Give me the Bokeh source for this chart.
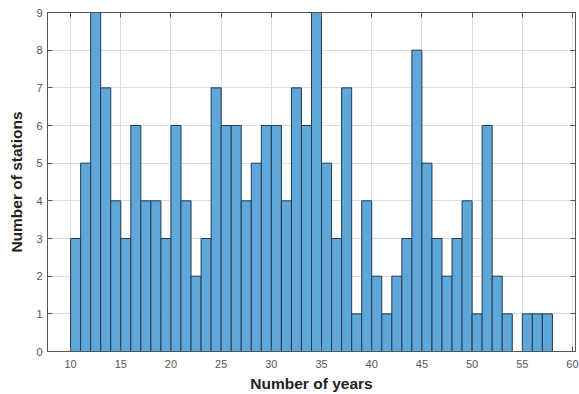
from bokeh.plotting import figure
from bokeh.models import LinearAxis, FixedTicker, Range1d
from bokeh.embed import file_html
from bokeh.resources import INLINE

bin_left = list(range(10, 58))
counts = [3, 5, 9, 7, 4, 3, 6, 4, 4, 3,
          6, 4, 2, 3, 7, 6, 6, 4, 5, 6,
          6, 4, 7, 6, 9, 5, 3, 7, 1, 4,
          2, 1, 2, 3, 8, 5, 3, 2, 3, 4,
          1, 6, 2, 1, 0, 1, 1, 1]
x_ticks = [10, 15, 20, 25, 30, 35, 40, 45, 50, 55, 60]
y_ticks = [0, 1, 2, 3, 4, 5, 6, 7, 8, 9]

bin_right = [b + 1 for b in bin_left]

p = figure(width=579, height=394, output_backend="svg", toolbar_location=None,
           x_range=Range1d(7.7, 60.3), y_range=Range1d(0, 9),
           min_border_left=47, min_border_top=12, min_border_right=4, min_border_bottom=40)

p.quad(left=bin_left, right=bin_right, bottom=0, top=counts,
       fill_color="#5fa6d9", line_color="#1f3c55", line_width=1)

FONT = "Liberation Sans"
for ax in (p.xaxis[0], p.yaxis[0]):
    ax.major_tick_in = 5
    ax.major_tick_out = 0
    ax.minor_tick_in = 0
    ax.minor_tick_out = 0
    ax.axis_line_color = "#555555"
    ax.major_tick_line_color = "#555555"
    ax.major_label_text_font = FONT
    ax.major_label_text_font_size = "11px"
    ax.major_label_text_color = "#555555"
    ax.axis_label_text_font = FONT
    ax.axis_label_text_font_style = "bold"
    ax.axis_label_text_font_size = "15.5px"
    ax.axis_label_text_color = "#222222"

p.xaxis[0].ticker = FixedTicker(ticks=x_ticks)
p.yaxis[0].ticker = FixedTicker(ticks=y_ticks)
p.xaxis[0].axis_label = "Number of years"
p.yaxis[0].axis_label = "Number of stations"
p.xaxis[0].major_label_standoff = 8
p.xaxis[0].axis_label_standoff = 4
p.yaxis[0].major_label_standoff = 5
p.yaxis[0].axis_label_standoff = 8

blank_x = {t: "" for t in x_ticks}
blank_y = {t: "" for t in y_ticks}
top_ax = LinearAxis(ticker=FixedTicker(ticks=x_ticks), major_label_overrides=blank_x,
                    major_tick_in=5, major_tick_out=0, minor_tick_in=0, minor_tick_out=0,
                    axis_line_color="#555555", major_tick_line_color="#555555",
                    major_label_standoff=0)
right_ax = LinearAxis(ticker=FixedTicker(ticks=y_ticks), major_label_overrides=blank_y,
                      major_tick_in=5, major_tick_out=0, minor_tick_in=0, minor_tick_out=0,
                      axis_line_color="#555555", major_tick_line_color="#555555",
                      major_label_standoff=0)
p.add_layout(top_ax, "above")
p.add_layout(right_ax, "right")

p.xgrid.ticker = FixedTicker(ticks=x_ticks)
p.ygrid.ticker = FixedTicker(ticks=y_ticks)
p.grid.grid_line_color = "#dcdcdc"
p.grid.grid_line_width = 1
p.outline_line_color = "#555555"
p.background_fill_color = "white"
p.border_fill_color = "white"

open("out.html", "w").write(file_html(p, INLINE))
